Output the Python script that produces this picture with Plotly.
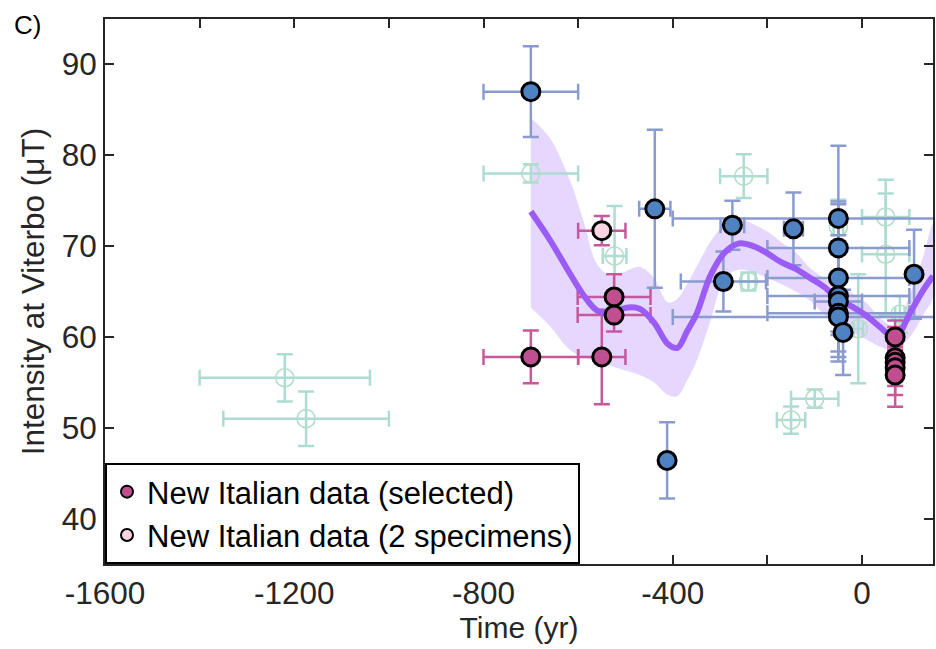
import plotly.graph_objects as go

# ---- smoothed model curve with its uncertainty envelope ----
curve_t = [-700, -660, -620, -590, -560, -530, -500, -470, -440, -410, -390, -370,
           -350, -320, -290, -260, -230, -200, -170, -140, -110, -80, -50, -20,
           10, 40, 70, 100, 130, 150]
curve_mean = [73.8, 70.7, 67.2, 64.7, 62.9, 62.6, 63.2, 63.1, 61.6, 59.2, 58.8, 60.6,
              62.5, 66.8, 69.3, 70.3, 70.0, 69.2, 68.2, 67.5, 66.5, 65.5, 64.1, 63.3,
              62.3, 61.0, 59.9, 62.5, 65.2, 66.7]
curve_upper = [84.1, 81.9, 77.6, 73.0, 68.0, 66.7, 67.2, 67.7, 66.5, 63.8, 64.2, 65.8,
               67.7, 70.5, 72.4, 73.0, 72.4, 71.6, 70.4, 69.3, 67.6, 66.5, 65.5, 64.8,
               63.7, 62.0, 61.2, 64.5, 69.0, 72.5]
curve_lower = [63.2, 61.2, 58.7, 57.8, 57.3, 56.8, 56.3, 55.8, 55.0, 53.6, 53.5, 55.2,
               57.3, 61.8, 66.5, 67.4, 67.1, 66.5, 65.8, 65.0, 64.0, 62.5, 61.5, 60.5,
               59.7, 58.9, 58.5, 59.9, 62.5, 64.4]

# ---- published Italian data ----
pub_t = [-700, -438, -412, -293, -274, -145, -50, -50, -50, -50, -50, -50, -50, -40, 110]
pub_f = [87.0, 74.1, 46.4, 66.1, 72.3, 71.9, 73.05, 69.8, 66.5, 64.5, 63.9, 62.6, 62.2, 60.5, 66.9]
pub_f_err = [5.0, 8.7, 4.2, 3.3, 2.7, 4.0, 8.0, 5.1, 8.1, 6.7, 6.6, 2.0, 2.0, 4.7, 4.9]
pub_t_err = [100, 33, 8, 90, 25, 20, 350, 150, 150, 150, 50, 150, 350, 10, 10]

# ---- new Italian data (selected) ----
sel_t = [-700, -550, -524, -524, 70, 70, 70, 70, 70]
sel_f = [57.8, 57.8, 64.4, 62.4, 60.0, 57.7, 57.2, 56.6, 55.8]
sel_f_err = [2.9, 5.2, 2.5, 1.8, 1.1, 4.1, 2.0, 2.0, 3.5]
sel_t_err = [100, 50, 77, 77, 5, 5, 5, 5, 5]

# ---- new Italian data (2 specimens) ----
two_t = [-550]
two_f = [71.7]
two_f_err = [1.6]
two_t_err = [50]

# ---- other regional data ----
oth_t = [-1220, -1175, -700, -523, -250, -240, -50, 50, 50, -8, 80, -100, -150]
oth_f = [55.5, 51.0, 78.0, 68.9, 77.7, 66.1, 72.1, 73.2, 69.1, 60.9, 62.5, 53.2, 50.85]
oth_f_err = [2.6, 3.0, 1.0, 5.5, 2.4, 1.0, 3.0, 4.1, 6.7, 6.0, 2.0, 1.0, 1.5]
oth_t_err = [180, 175, 100, 25, 50, 15, 10, 50, 50, 10, 10, 50, 30]

x_tickvals = list(range(-1600, 1, 200))
x_ticktext = ["-1600", "", "-1200", "", "-800", "", "-400", "", "0"]
y_tickvals = [40, 50, 60, 70, 80, 90]

FONT = "Liberation Sans, Arial, Helvetica, sans-serif"
AX = "#262626"

BLUE = "#4f82c0"
BLUE_BAR = "#8a9bd0"
MAG = "#c04f90"
MAG_BAR = "#c8579b"
PINK = "#f8d3e2"
TEAL_BAR = "#acdcd2"
TEAL_RING = "#b5dec8"
PURPLE = "#9a5cf5"
BAND = "#e5d7fd"


def bars(terr, ferr, color):
    return dict(
        error_x=dict(type="data", array=terr, symmetric=True, color=color,
                     thickness=2.5, width=8),
        error_y=dict(type="data", array=ferr, symmetric=True, color=color,
                     thickness=2.5, width=8),
    )


fig = go.Figure()

# envelope
fig.add_trace(go.Scatter(
    x=curve_t + curve_t[::-1], y=curve_upper + curve_lower[::-1],
    fill="toself", fillcolor=BAND, mode="lines", line=dict(width=0, shape="spline"),
    hoverinfo="skip", showlegend=False))

# other data: open rings with error crosses
fig.add_trace(go.Scatter(
    x=oth_t, y=oth_f, mode="markers", showlegend=False,
    marker=dict(size=18, color="rgba(0,0,0,0)", line=dict(color=TEAL_RING, width=1.6)),
    **bars(oth_t_err, oth_f_err, TEAL_BAR)))

# error bars of published and new data (their markers are drawn above the curve)
fig.add_trace(go.Scatter(
    x=pub_t, y=pub_f, mode="markers", showlegend=False,
    marker=dict(size=18, opacity=0),
    **bars(pub_t_err, pub_f_err, BLUE_BAR)))
fig.add_trace(go.Scatter(
    x=sel_t, y=sel_f, mode="markers", showlegend=False,
    marker=dict(size=18, opacity=0),
    **bars(sel_t_err, sel_f_err, MAG_BAR)))
fig.add_trace(go.Scatter(
    x=two_t, y=two_f, mode="markers", showlegend=False,
    marker=dict(size=18, opacity=0),
    **bars(two_t_err, two_f_err, MAG_BAR)))

# model curve
fig.add_trace(go.Scatter(
    x=curve_t, y=curve_mean, mode="lines", showlegend=False,
    line=dict(color=PURPLE, width=6, shape="spline", smoothing=1.0)))

# markers
fig.add_trace(go.Scatter(
    x=pub_t, y=pub_f, mode="markers", showlegend=False,
    marker=dict(size=18, color=BLUE, line=dict(color="black", width=3))))
fig.add_trace(go.Scatter(
    x=sel_t, y=sel_f, mode="markers", name="New Italian data (selected)",
    marker=dict(size=18, color=MAG, line=dict(color="black", width=3))))
fig.add_trace(go.Scatter(
    x=two_t, y=two_f, mode="markers", name="New Italian data (2 specimens)",
    marker=dict(size=18, color=PINK, line=dict(color="black", width=3))))

axis_common = dict(
    showgrid=False, zeroline=False, showline=True, linecolor=AX, linewidth=2,
    mirror="ticks", ticks="inside", ticklen=9, tickwidth=2, tickcolor=AX,
    tickfont=dict(family=FONT, size=31.5, color=AX),
)

fig.update_layout(
    width=936, height=649,
    margin=dict(l=105, r=1, t=19, b=85),
    paper_bgcolor="white", plot_bgcolor="white",
    font=dict(family=FONT, size=30, color=AX),
    xaxis=dict(range=[-1600, 150], tickmode="array", tickvals=x_tickvals,
               ticktext=x_ticktext,
               title=dict(text="Time (yr)", font=dict(family=FONT, size=30, color=AX),
                          standoff=6),
               **axis_common),
    yaxis=dict(range=[35, 95], tickmode="array", tickvals=y_tickvals,
               title=dict(text="Intensity at Viterbo (μT)",
                          font=dict(family=FONT, size=31.5, color=AX), standoff=8),
               **axis_common),
    legend=dict(x=0, y=0, xanchor="left", yanchor="bottom",
                bgcolor="white", bordercolor="black", borderwidth=2,
                font=dict(family=FONT, size=31, color="black"),
                itemsizing="constant", tracegroupgap=0),
    annotations=[dict(text="C)", xref="paper", yref="paper",
                      x=-0.112, y=1.02, xanchor="left", yanchor="top",
                      showarrow=False, font=dict(family=FONT, size=26, color="black"))],
)

fig.write_html("out.html")
